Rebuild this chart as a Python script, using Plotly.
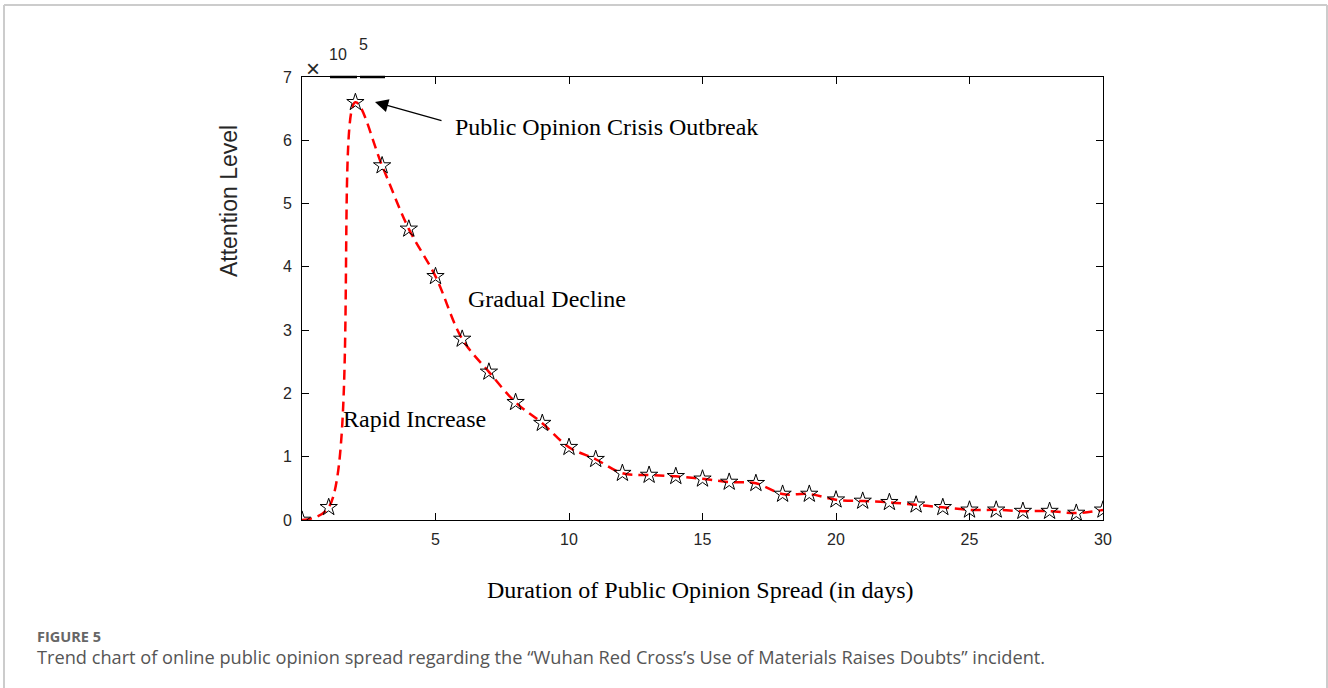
import plotly.graph_objects as go

days = list(range(0, 31))
attention = [0.0, 0.2, 6.6, 5.6, 4.6, 3.85, 2.86, 2.34, 1.86, 1.53, 1.15, 0.96,
             0.74, 0.71, 0.69, 0.65, 0.6, 0.58, 0.41, 0.41, 0.32, 0.3, 0.28,
             0.24, 0.2, 0.16, 0.16, 0.14, 0.14, 0.11, 0.16]
x_ticks = [5, 10, 15, 20, 25, 30]
y_ticks = [0, 1, 2, 3, 4, 5, 6, 7]

W, H = 1328, 688
L, R, T, B = 302, 1103, 77, 520


def px(x):
    return (x - L) / (R - L)


def py(y):
    return (B - y) / (B - T)


serif = "Liberation Serif, Times New Roman, serif"
sans = "Liberation Sans, Arial, sans-serif"

fig = go.Figure()
fig.add_trace(go.Scatter(
    x=days, y=attention, mode="lines",
    line=dict(color="#ff0000", width=2.5, dash="10px,6px", shape="spline", smoothing=1.0),
    hoverinfo="skip", showlegend=False))
fig.add_trace(go.Scatter(
    x=days, y=attention, mode="markers",
    marker=dict(symbol="star-open", size=13, color="black", line=dict(width=1, color="black")),
    showlegend=False))

axis_common = dict(showline=True, linecolor="black", linewidth=1, mirror="ticks",
                   ticks="inside", ticklen=7, tickcolor="black", showgrid=False,
                   zeroline=False, tickfont=dict(family=sans, size=16, color="#262626"))
fig.update_xaxes(range=[0, 30], tickvals=x_ticks, ticklabelstandoff=5, **axis_common)
fig.update_yaxes(range=[0, 7], tickvals=y_ticks, ticklabelstandoff=6, **axis_common)


def note(text, x, y, size, family, color="black", xanchor="center", **kw):
    return dict(text=text, x=px(x), y=py(y), xref="paper", yref="paper",
                xanchor=xanchor, yanchor="middle", showarrow=False,
                font=dict(family=family, size=size, color=color), **kw)


ann = [
    note("Public Opinion Crisis Outbreak", 453, 127, 24, serif, xanchor="left"),
    note("Gradual Decline", 466, 299, 24, serif, xanchor="left"),
    note("Rapid Increase", 341, 419, 24, serif, xanchor="left"),
    note("Duration of Public Opinion Spread (in days)", 700, 590, 24, serif),
    note("Attention Level", 229, 201, 23, sans, color="#262626", textangle=-90),
    note("×", 313, 68, 24, sans, color="#262626"),
    note("10", 338, 54, 16, sans, color="#262626"),
    note("5", 363, 45, 16, sans, color="#262626"),
    note("<b>FIGURE 5</b>", 35, 636, 14.5, "Open Sans, sans-serif", color="#666666", xanchor="left"),
    note("Trend chart of online public opinion spread regarding the “Wuhan Red Cross’s Use of Materials Raises Doubts” incident.",
         35, 657, 18.2, "Open Sans, sans-serif", color="#555555", xanchor="left"),
]
# arrow
ann.append(dict(text="", x=px(375), y=py(102), ax=68, ay=19,
                xref="paper", yref="paper", axref="pixel", ayref="pixel",
                showarrow=True, arrowhead=2, arrowsize=2.2, arrowwidth=1.2, arrowcolor="black"))

shapes = []
gray = dict(color="#cccccc", width=2)
shapes.append(dict(type="line", xref="paper", yref="paper", x0=px(4), x1=px(1327), y0=py(5), y1=py(5), line=gray))
shapes.append(dict(type="line", xref="paper", yref="paper", x0=px(4), x1=px(4), y0=py(5), y1=py(700), line=gray))
shapes.append(dict(type="line", xref="paper", yref="paper", x0=px(1327), x1=px(1327), y0=py(5), y1=py(700), line=gray))
# thick segments near exponent
for a, b in [(330, 357), (360, 385)]:
    shapes.append(dict(type="line", xref="paper", yref="paper", x0=px(a), x1=px(b), y0=py(77), y1=py(77),
                       line=dict(color="black", width=2.5)))

fig.update_layout(width=W, height=H, margin=dict(l=L, r=W - R, t=T, b=H - B),
                  paper_bgcolor="white", plot_bgcolor="white",
                  annotations=ann, shapes=shapes, showlegend=False)

fig.write_html("out.html", config={"displayModeBar": False},
               post_script="document.body.style.margin='0';")
